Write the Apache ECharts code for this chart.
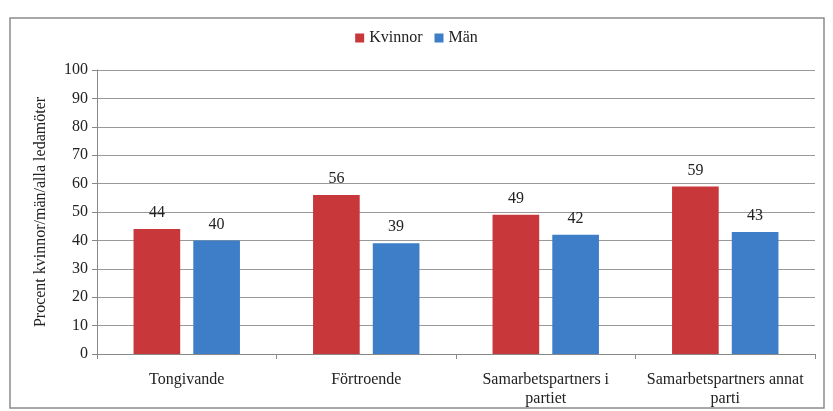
<!DOCTYPE html>
<html>
<head>
<meta charset="utf-8">
<script src="https://cdn.jsdelivr.net/npm/echarts@6/dist/echarts.min.js"></script>
<style>
  html, body { margin: 0; padding: 0; background: #fff; }
  #chart { width: 833px; height: 411px; }
</style>
</head>
<body>
<div id="chart"></div>
<script>
const categories = ['Tongivande', 'Förtroende', 'Samarbetspartners i\npartiet', 'Samarbetspartners annat\nparti']
const kvinnor = [44, 56, 49, 59]
const man = [40, 39, 42, 43]

const font = 'Liberation Serif'
const chart = echarts.init(document.getElementById('chart'))

chart.setOption({
  animation: false,
  textStyle: { fontFamily: font },
  graphic: [{
    type: 'rect',
    shape: { x: 10, y: 18, width: 814, height: 390 },
    style: { fill: 'none', stroke: '#8c8c8c', lineWidth: 1.5 }
  }],
  legend: {
    top: 25,
    left: 'center',
    itemWidth: 9,
    itemHeight: 9,
    itemGap: 12,
    icon: 'rect',
    textStyle: { fontFamily: font, fontSize: 16, color: '#222' },
    data: ['Kvinnor', 'Män']
  },
  grid: {
    left: 97,
    right: 18,
    top: 70,
    bottom: 57
  },
  xAxis: {
    type: 'category',
    data: categories,
    axisLine: { lineStyle: { color: '#888' } },
    axisTick: { show: true, interval: 0, length: 5, lineStyle: { color: '#888' } },
    axisLabel: { interval: 0, fontFamily: font, fontSize: 16, color: '#222', lineHeight: 19, margin: 16 }
  },
  yAxis: {
    type: 'value',
    min: 0,
    max: 100,
    interval: 10,
    name: 'Procent kvinnor/män/alla ledamöter',
    nameLocation: 'middle',
    nameGap: 48,
    nameTextStyle: { fontFamily: font, fontSize: 16, color: '#222' },
    axisLine: { show: true, lineStyle: { color: '#888' } },
    axisTick: { show: true, length: 5, lineStyle: { color: '#888' } },
    axisLabel: { fontFamily: font, fontSize: 16, color: '#222', margin: 9 },
    splitLine: { lineStyle: { color: '#999' } }
  },
  series: [{
    name: 'Kvinnor',
    type: 'bar',
    data: kvinnor,
    barWidth: '26%',
    barGap: '28%',
    itemStyle: { color: '#C8383B' },
    label: { show: true, position: 'top', distance: 8, fontFamily: font, fontSize: 16, color: '#222' }
  }, {
    name: 'Män',
    type: 'bar',
    data: man,
    barWidth: '26%',
    itemStyle: { color: '#3E7EC9' },
    label: { show: true, position: 'top', distance: 8, fontFamily: font, fontSize: 16, color: '#222' }
  }]
})
</script>
</body>
</html>
